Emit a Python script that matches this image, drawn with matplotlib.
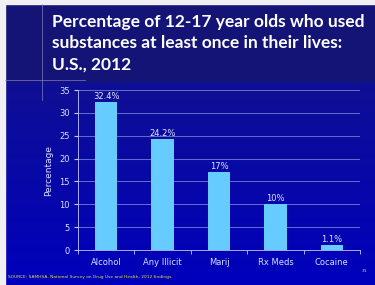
import numpy as np
import matplotlib
matplotlib.use("Agg")
import matplotlib.pyplot as plt

# datos
categorias = ["Alcohol", "Any Illicit", "Marij", "Rx Meds", "Cocaine"]
valores = [32.4, 24.2, 17, 10, 1.1]
etiquetas = ["32.4%", "24.2%", "17%", "10%", "1.1%"]
yticks = [0, 5, 10, 15, 20, 25, 30, 35]

titulo = "Percentage of 12-17 year olds who used\nsubstances at least once in their lives:\nU.S., 2012"
fuente = "SOURCE: SAMHSA, National Survey on Drug Use and Health, 2012 findings."

fig = plt.figure(figsize=(3.75, 2.85), dpi=100)

# fondo degradado
fondo = fig.add_axes([0, 0, 1, 1])
fondo.set_axis_off()
h = 285
grad = np.zeros((h, 1, 3))
for i in range(h):
    if i < 82:
        grad[i, 0] = (0.08, 0.08, 0.47)
    else:
        t = (i - 82) / (h - 82)
        grad[i, 0] = (0.06 * (1 - t), 0.06 * (1 - t), 0.58 + 0.16 * t)
fondo.imshow(grad, aspect="auto", extent=[0, 1, 0, 1])
fondo.set_xlim(0, 1)
fondo.set_ylim(0, 1)
# borde blanco y destello
fondo.axvspan(0, 5 / 375, color="#f0f0f4")
fondo.axhspan(1 - 4 / 285, 1, color="#f0f0f4")
fondo.plot([42 / 375, 42 / 375], [1 - 4 / 285, 1 - 100 / 285], color="#9090d0", lw=0.7, alpha=0.6)
fondo.plot([5 / 375, 85 / 375], [1 - 80 / 285, 1 - 80 / 285], color="#9090d0", lw=0.7, alpha=0.6)

fig.text(52 / 375, 1 - 14 / 285, titulo, color="white", fontsize=12.5, fontweight="bold",
         family="Lato", va="top", ha="left", linespacing=1.4)
fig.text(8 / 375, 1 - 277 / 285, fuente, color="#e8e040", fontsize=3.2, va="center", ha="left")
fig.text(364 / 375, 1 - 271 / 285, "31", color="#d0d0d0", fontsize=3.2, va="center", ha="center")

ax = fig.add_axes([78 / 375, 1 - 250 / 285, 282 / 375, 160 / 285])
ax.set_facecolor("none")
x = np.arange(len(categorias))
ax.bar(x, valores, width=0.4, color="#66ccff", zorder=3)
for xi, v, e in zip(x, valores, etiquetas):
    ax.text(xi, v + 0.3, e, color="#e0e8ff", fontsize=6, ha="center", va="bottom")

ax.set_xlim(-0.5, 4.5)
ax.set_ylim(0, 35)
ax.set_yticks(yticks)
ax.set_xticks(x)
ax.set_xticklabels(categorias)
ax.set_xticks(np.arange(-0.5, 5, 1), minor=True)
ax.tick_params(axis="x", which="major", length=0, pad=6, labelsize=6, labelcolor="#d8e0ff")
ax.tick_params(axis="x", which="minor", length=3, color="#c0c8ff", direction="out")
ax.tick_params(axis="y", length=3, color="#c0c8ff", labelsize=6, labelcolor="#d8e0ff", pad=3)
ax.yaxis.grid(True, color="#7080d0", lw=0.6)
for s in ["top", "right"]:
    ax.spines[s].set_visible(False)
ax.spines["left"].set_color("#c0c8ff")
ax.spines["bottom"].set_color("#c0c8ff")
ax.spines["left"].set_linewidth(0.6)
ax.spines["bottom"].set_linewidth(0.6)
ax.set_ylabel("Percentage", color="#d8e0ff", fontsize=6.5, labelpad=4)

plt.savefig("out.png", dpi=100)
